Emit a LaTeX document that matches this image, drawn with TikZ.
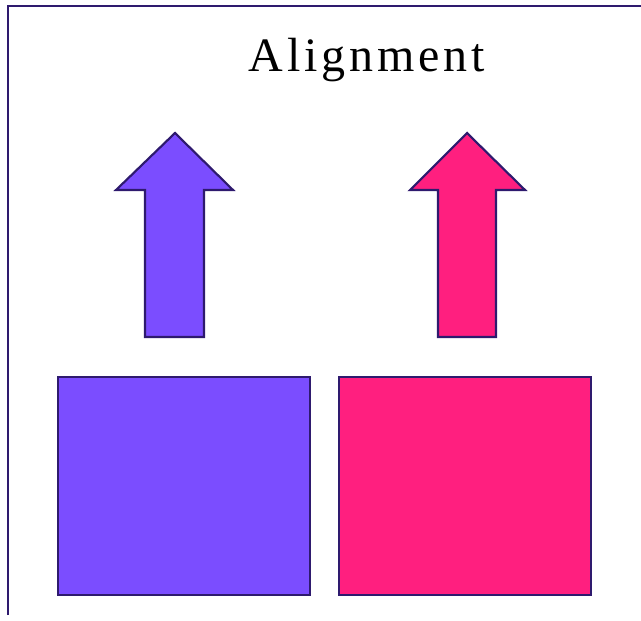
\documentclass[tikz,border=0pt]{standalone}
\usepackage{fontspec}
\setmainfont{Liberation Serif}
\newfontfamily\titlefont[LetterSpace=8]{Liberation Serif}
\definecolor{edge}{HTML}{2E1A6E}
\definecolor{violetfill}{HTML}{7B4DFF}
\definecolor{pinkfill}{HTML}{FF1F7F}
\begin{document}
\begin{tikzpicture}[x=0.75pt,y=-0.75pt,
  shape outline/.style={draw=edge,line width=1.6pt,line join=miter},
  frame line/.style={draw=edge,line width=1.8pt}]
\useasboundingbox (0,0) rectangle (641,620);
% frame
\coordinate (fa) at (8,615);
\coordinate (fb) at (8,6);
\coordinate (fc) at (641,6);
\draw[frame line] (fa) -- (fb) -- (fc);
% title
\node[anchor=base,font=\titlefont\fontsize{36}{40}\selectfont,inner sep=0] (title) at (367,72) {Alignment};
% arrows
\filldraw[shape outline,fill=violetfill] (175,133) -- (233,190) -- (204,190) -- (204,337) -- (145,337) -- (145,190) -- (116,190) -- cycle;
\filldraw[shape outline,fill=pinkfill] (467,133) -- (525,190) -- (496,190) -- (496,337) -- (438,337) -- (438,190) -- (410,190) -- cycle;
% boxes
\filldraw[shape outline,fill=violetfill] (58,377) rectangle (310,595);
\filldraw[shape outline,fill=pinkfill] (339,377) rectangle (591,595);
\end{tikzpicture}
\end{document}
